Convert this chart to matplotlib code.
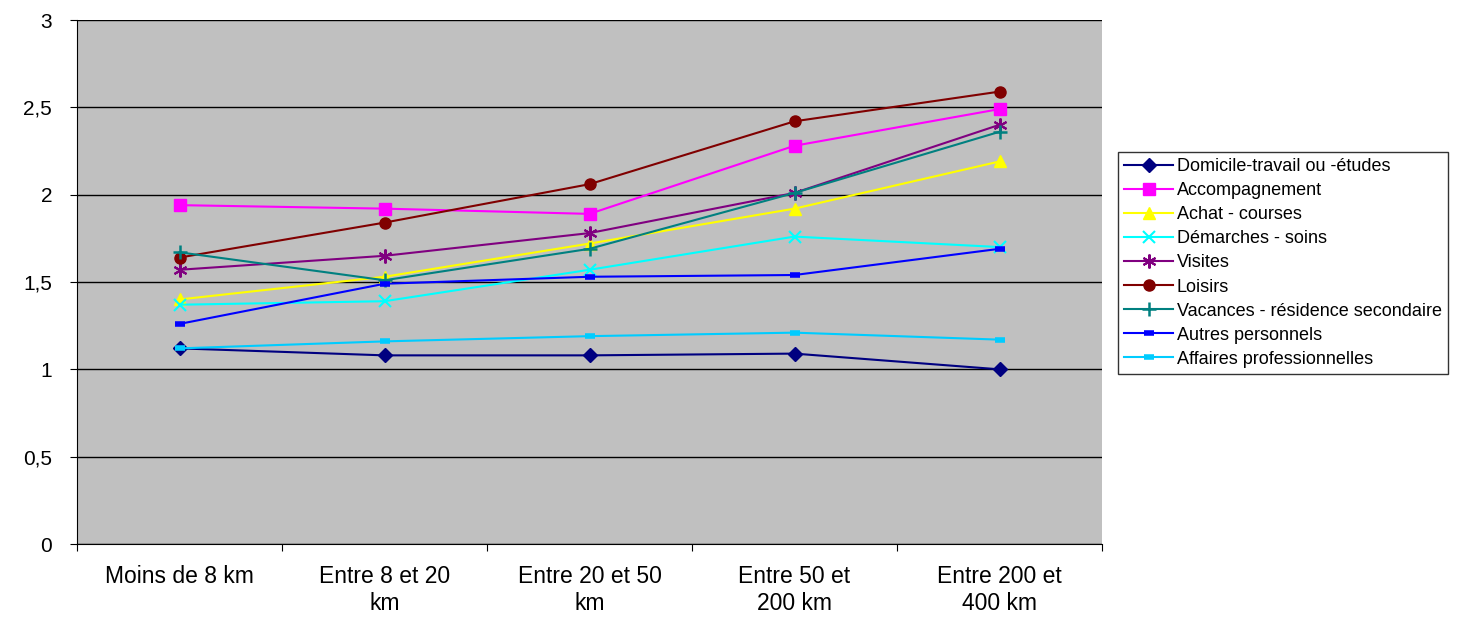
import matplotlib.pyplot as plt
from matplotlib.ticker import FixedLocator, FuncFormatter

plt.rcParams['font.family'] = ['Liberation Sans', 'DejaVu Sans']

# categories (distance bands)
categories = ["Moins de 8 km", "Entre 8 et 20\nkm", "Entre 20 et 50\nkm",
              "Entre 50 et\n200 km", "Entre 200 et\n400 km"]

# series values
domicile = [1.12, 1.08, 1.08, 1.09, 1.00]
accompagnement = [1.94, 1.92, 1.89, 2.28, 2.49]
achat = [1.40, 1.53, 1.72, 1.92, 2.19]
demarches = [1.37, 1.39, 1.57, 1.76, 1.70]
visites = [1.57, 1.65, 1.78, 2.01, 2.40]
loisirs = [1.64, 1.84, 2.06, 2.42, 2.59]
vacances = [1.67, 1.51, 1.69, 2.01, 2.36]
autres = [1.26, 1.49, 1.53, 1.54, 1.69]
affaires = [1.12, 1.16, 1.19, 1.21, 1.17]

series = [
    ("Domicile-travail ou -études", domicile, "#000080", "D", 7, 1),
    ("Accompagnement", accompagnement, "#FF00FF", "s", 8, 1),
    ("Achat - courses", achat, "#FFFF00", "^", 8, 1),
    ("Démarches - soins", demarches, "#00FFFF", "x", 9, 1.5),
    ("Visites", visites, "#800080", (6, 2, 0), 10, 1.5),
    ("Loisirs", loisirs, "#800000", "o", 8, 1),
    ("Vacances - résidence secondaire", vacances, "#008080", "+", 10, 1.8),
    ("Autres personnels", autres, "#0000FF", "_", 7, 4),
    ("Affaires professionnelles", affaires, "#00CCFF", "_", 7, 4),
]

fig = plt.figure(figsize=(14.7, 6.18), dpi=100)
ax = fig.add_axes([77/1470, 1-544/618, (1102-77)/1470, (544-20)/618])
ax.set_facecolor("#C0C0C0")

x = list(range(1, len(categories)+1))
for label, vals, col, mk, ms, mew in series:
    ax.plot(x, vals, color=col, lw=1.5, marker=mk, markersize=ms,
            markeredgewidth=mew, markeredgecolor=col, markerfacecolor=col,
            label=label)

ax.set_xlim(0.5, 5.5)
ax.set_ylim(0, 3)
ax.set_yticks([0, 0.5, 1, 1.5, 2, 2.5, 3])
ax.yaxis.set_major_formatter(FuncFormatter(lambda v, p: ("%g" % v).replace(".", ",")))
ax.grid(axis="y", color="black", lw=1)
ax.set_axisbelow(True)

ax.xaxis.set_major_locator(FixedLocator([0.5, 1.5, 2.5, 3.5, 4.5, 5.5]))
ax.xaxis.set_major_formatter(FuncFormatter(lambda v, p: ""))
ax.xaxis.set_minor_locator(FixedLocator(x))
ax.set_xticklabels(categories, minor=True)
ax.tick_params(axis="x", which="major", length=5, direction="out", color="black")
ax.tick_params(axis="x", which="minor", length=0, labelsize=16.5, pad=15)
ax.tick_params(axis="y", length=5, direction="out", labelsize=15, pad=13)
for lbl in ax.get_xticklabels(minor=True):
    lbl.set_linespacing(1.25)

for s in ["top", "right"]:
    ax.spines[s].set_visible(False)
ax.spines["left"].set_color("black")
ax.spines["bottom"].set_color("black")

leg = fig.legend(loc="upper left", bbox_to_anchor=(1118/1470, 1-152/618),
                 fontsize=13, frameon=True, fancybox=False, handlelength=2.7,
                 labelspacing=0.39, borderpad=0.35, handletextpad=0.2,
                 borderaxespad=0)
leg.get_frame().set_edgecolor("black")
leg.get_frame().set_linewidth(1)

fig.savefig("out.png", dpi=100, facecolor="white")
